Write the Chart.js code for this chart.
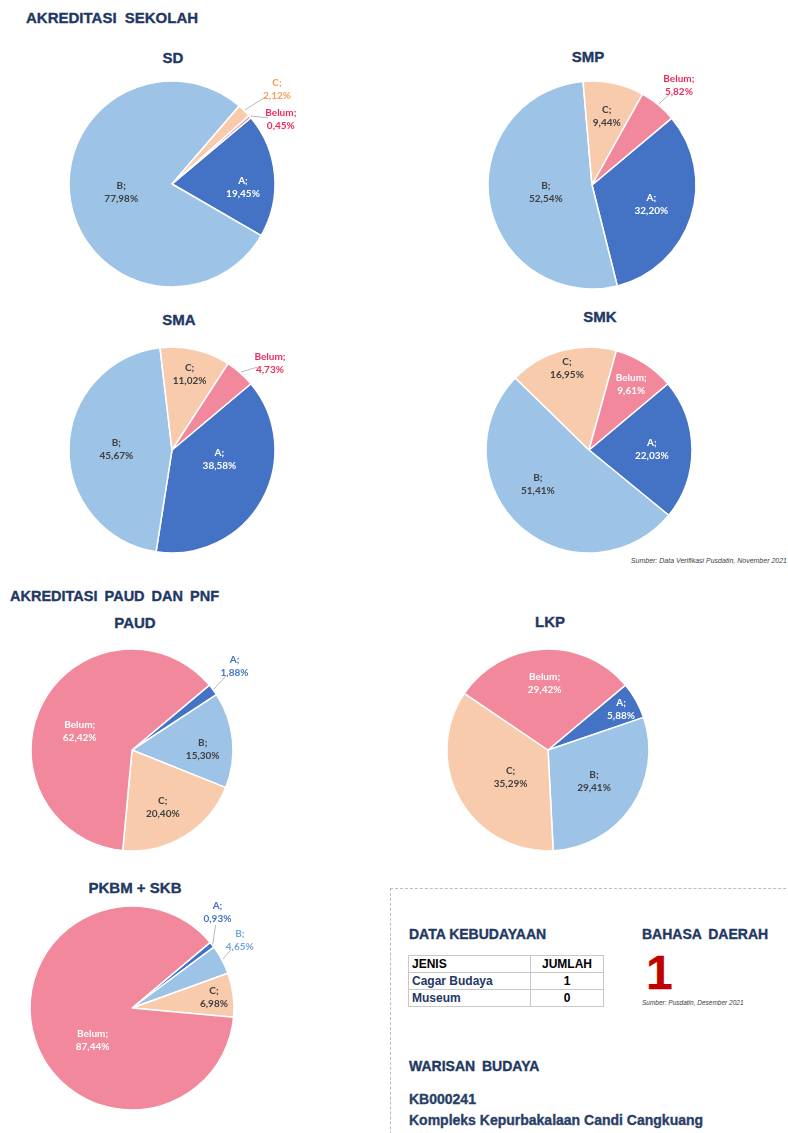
<!DOCTYPE html>
<html>
<head>
<meta charset="utf-8">
<script src="https://cdn.jsdelivr.net/npm/chart.js@4.4.0/dist/chart.umd.min.js"></script>
<style>
body { margin: 0; background: #fff; }
#page { position: relative; width: 788px; height: 1133px; overflow: hidden; font-family: "Liberation Sans", Arial, sans-serif; }
.t { position: absolute; font-weight: bold; color: #1F3864; line-height: 1; white-space: nowrap; -webkit-text-stroke: 0.35px currentColor; }
.c { transform: translateX(-50%); }
.src { position: absolute; font-style: italic; color: #404040; line-height: 1; white-space: nowrap; }
canvas { position: absolute; }
#box { position: absolute; left: 390px; top: 888px; width: 420px; height: 300px; border-left: 1px dashed #BDBDBD; border-top: 1px dashed #BDBDBD; }
#tbl { position: absolute; left: 408px; top: 955px; border-collapse: collapse; font-size: 12px; font-weight: bold; }
#tbl td { border: 1px solid #C8C8C8; padding: 0 3px; height: 16px; line-height: 16px; }
#tbl td.n { text-align: center; }
</style>
</head>
<body>
<div id="page">
  <div class="t" style="left:26px;top:10px;font-size:15px;word-spacing:4px">AKREDITASI SEKOLAH</div>
  <div class="t c" style="left:173px;top:50px;font-size:15px">SD</div>
  <div class="t c" style="left:588px;top:49px;font-size:15px">SMP</div>
  <div class="t c" style="left:179px;top:312px;font-size:15px">SMA</div>
  <div class="t c" style="left:600px;top:309px;font-size:15px">SMK</div>
  <div class="src" style="right:1px;top:557px;font-size:7px">Sumber: Data Verifikasi Pusdatin, November 2021</div>

  <div class="t" style="left:10px;top:589px;font-size:14.5px;word-spacing:3px">AKREDITASI PAUD DAN PNF</div>
  <div class="t c" style="left:135px;top:615px;font-size:15px">PAUD</div>
  <div class="t c" style="left:550px;top:614px;font-size:15px">LKP</div>
  <div class="t c" style="left:135px;top:880px;font-size:15px">PKBM + SKB</div>

  <div id="box"></div>
  <div class="t" style="left:409px;top:927px;font-size:14px">DATA KEBUDAYAAN</div>
  <div class="t" style="left:642px;top:927px;font-size:14px;word-spacing:3px">BAHASA DAERAH</div>
  <table id="tbl">
    <tr><td style="width:115px;color:#000">JENIS</td><td class="n" style="width:66px;color:#000">JUMLAH</td></tr>
    <tr><td style="color:#1F3864">Cagar Budaya</td><td class="n" style="color:#000">1</td></tr>
    <tr><td style="color:#1F3864">Museum</td><td class="n" style="color:#000">0</td></tr>
  </table>
  <div class="t" style="left:646px;top:949px;font-size:48px;color:#C00000">1</div>
  <div class="src" style="left:642px;top:1000px;font-size:6.5px">Sumber: Pusdatin, Desember 2021</div>
  <div class="t" style="left:409px;top:1059px;font-size:14px;word-spacing:3px">WARISAN BUDAYA</div>
  <div class="t" style="left:409px;top:1092px;font-size:14px;color:#2A3F66">KB000241</div>
  <div class="t" style="left:409px;top:1113px;font-size:14px;color:#2A3F66">Kompleks Kepurbakalaan Candi Cangkuang</div>
</div>
<script>
const categories = ['A', 'B', 'C', 'Belum'];
const sliceColors = ['#4472C4', '#9DC3E6', '#F8CBAD', '#F1889C'];

const sdValues = [19.45, 77.98, 2.12, 0.45];
const smpValues = [32.20, 52.54, 9.44, 5.82];
const smaValues = [38.58, 45.67, 11.02, 4.73];
const smkValues = [22.03, 51.41, 16.95, 9.61];
const paudValues = [1.88, 15.30, 20.40, 62.42];
const lkpValues = [5.88, 29.41, 35.29, 29.42];
const pkbmValues = [0.93, 4.65, 6.98, 87.44];

const insideText = { A: '#ffffff', B: '#404040', C: '#404040', Belum: '#ffffff' };
const outsideText = { A: '#4472C4', B: '#6FA8DC', C: '#F4A05A', Belum: '#EE2A5B' };

function pct(v) {
    return v.toFixed(2).replace('.', ',') + '%';
}

// draws "X;\nnn,nn%" labels inside the slices, or outside with a leader line
const sliceLabels = {
    id: 'sliceLabels',
    afterDatasetsDraw(chart, args, opts) {
        const ctx = chart.ctx;
        const meta = chart.getDatasetMeta(0);
        const values = chart.data.datasets[0].data;
        ctx.save();
        ctx.font = 'bold 10px Lato, "Open Sans", sans-serif';
        ctx.textAlign = 'center';
        ctx.textBaseline = 'middle';
        meta.data.forEach((arc, i) => {
            const p = arc.getProps(['x', 'y', 'startAngle', 'endAngle', 'outerRadius'], true);
            const name = chart.data.labels[i];
            const place = opts.place[name] || {};
            const mid = (p.startAngle + p.endAngle) / 2;
            const a = mid + (place.da || 0) * Math.PI / 180;
            const k = place.k || 0.6;
            const lx = p.x + Math.cos(a) * p.outerRadius * k;
            const ly = p.y + Math.sin(a) * p.outerRadius * k;
            if (place.out) {
                const ex = p.x + Math.cos(mid) * (p.outerRadius + 1);
                const ey = p.y + Math.sin(mid) * (p.outerRadius + 1);
                const dx = ex - lx, dy = ey - ly;
                const d = Math.hypot(dx, dy);
                if (d > 16) {
                    ctx.strokeStyle = '#A6A6A6';
                    ctx.lineWidth = 0.8;
                    ctx.beginPath();
                    ctx.moveTo(ex, ey);
                    ctx.lineTo(lx + dx / d * 13, ly + dy / d * 13);
                    ctx.stroke();
                }
                ctx.fillStyle = outsideText[name];
            } else {
                ctx.fillStyle = insideText[name];
            }
            ctx.fillText(name + ';', lx, ly - 6.5);
            ctx.fillText(pct(values[i]), lx, ly + 6.5);
        });
        ctx.restore();
    }
};

const charts = [
    { values: sdValues, cx: 172, cy: 184, r: 103,
      place: { A: { k: 0.69, da: 8 }, B: { k: 0.5 }, C: { out: true, k: 1.37, da: 3.5 }, Belum: { out: true, k: 1.23, da: 10 } } },
    { values: smpValues, cx: 592, cy: 185, r: 104,
      place: { A: { k: 0.6 }, B: { k: 0.45 }, C: { k: 0.68 }, Belum: { out: true, k: 1.27, da: 1.6 } } },
    { values: smaValues, cx: 172, cy: 450, r: 103,
      place: { A: { k: 0.47, da: -18 }, B: { k: 0.54 }, C: { k: 0.75 }, Belum: { out: true, k: 1.27, da: 7 } } },
    { values: smkValues, cx: 589, cy: 450, r: 103,
      place: { A: { k: 0.61 }, B: { k: 0.6, da: 14 }, C: { k: 0.82 }, Belum: { k: 0.76 } } },
    { values: paudValues, cx: 132, cy: 750, r: 101,
      place: { A: { out: true, k: 1.31, da: -2.6 }, B: { k: 0.7, da: 5 }, C: { k: 0.64, da: 3 }, Belum: { k: 0.55, da: -8 } } },
    { values: lkpValues, cx: 548, cy: 750, r: 101,
      place: { A: { k: 0.83 }, B: { k: 0.55 }, C: { k: 0.46, da: -7 }, Belum: { k: 0.66 } } },
    { values: pkbmValues, cx: 132, cy: 1008, r: 102,
      place: { A: { out: true, k: 1.26, da: -10 }, B: { out: true, k: 1.25, da: -4 }, C: { k: 0.81 }, Belum: { k: 0.5, da: -22 } } }
];

const W = 300, H = 250;
const page = document.getElementById('page');

charts.forEach(cfg => {
    const canvas = document.createElement('canvas');
    canvas.width = W;
    canvas.height = H;
    canvas.style.left = (cfg.cx - W / 2) + 'px';
    canvas.style.top = (cfg.cy - H / 2) + 'px';
    page.appendChild(canvas);

    new Chart(canvas, {
        type: 'pie',
        data: {
            labels: categories,
            datasets: [{
                data: cfg.values,
                backgroundColor: sliceColors,
                borderColor: '#ffffff',
                borderWidth: 1.5,
                radius: cfg.r
            }]
        },
        options: {
            responsive: false,
            animation: false,
            rotation: 50,
            layout: { padding: 0 },
            plugins: {
                legend: { display: false },
                tooltip: { enabled: false },
                sliceLabels: { place: cfg.place }
            }
        },
        plugins: [sliceLabels]
    });
});
</script>
</body>
</html>
